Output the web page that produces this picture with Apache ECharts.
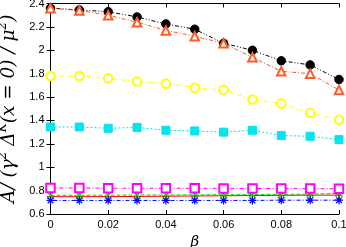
<!DOCTYPE html>
<html><head><meta charset="utf-8">
<script src="https://cdn.jsdelivr.net/npm/echarts@6/dist/echarts.min.js"></script>
<style>html,body{margin:0;padding:0;background:#fff}#c{width:346px;height:247px}</style>
</head><body><div id="c"></div>
<script>
const beta = [0, 0.01, 0.02, 0.03, 0.04, 0.05, 0.06, 0.07, 0.08, 0.09, 0.1];
const redPlus    = [0.748, 0.748, 0.749, 0.750, 0.752, 0.754, 0.756, 0.758, 0.760, 0.761, 0.762];
const greenX     = [0.760, 0.760, 0.761, 0.762, 0.763, 0.764, 0.765, 0.766, 0.768, 0.770, 0.776];
const blueStar   = [0.716, 0.716, 0.716, 0.716, 0.716, 0.716, 0.716, 0.716, 0.718, 0.718, 0.718];
const magentaSq  = [0.822, 0.822, 0.821, 0.820, 0.820, 0.820, 0.819, 0.818, 0.818, 0.817, 0.815];
const cyanSq     = [1.344, 1.344, 1.333, 1.340, 1.316, 1.310, 1.300, 1.316, 1.270, 1.265, 1.236];
const yellowCirc = [1.780, 1.780, 1.760, 1.733, 1.715, 1.680, 1.660, 1.580, 1.545, 1.465, 1.405];
const blackCirc  = [2.360, 2.345, 2.330, 2.285, 2.225, 2.180, 2.060, 2.000, 1.910, 1.875, 1.750];
const orangeTri  = [2.360, 2.340, 2.300, 2.240, 2.170, 2.120, 2.060, 1.940, 1.820, 1.800, 1.660];
const xTicks = [0, 0.02, 0.04, 0.06, 0.08, 0.1];
const yTicks = [0.6, 0.8, 1, 1.2, 1.4, 1.6, 1.8, 2, 2.2, 2.4];

const pair = a => beta.map((b, i) => [b, a[i]]);
const PLUS = 'path://M5,0L5,10M0,5L10,5';
const CROSS = 'path://M0,0L10,10M10,0L0,10';
const STAR = 'path://M5,0L5,10M0,5L10,5M1.5,1.5L8.5,8.5M8.5,1.5L1.5,8.5';

function mk(data, color, dash, symbol, size, kind) {
  let itemStyle;
  if (kind === 'stroke') itemStyle = {color: 'rgba(0,0,0,0)', borderColor: color, borderWidth: 1.2};
  else if (kind === 'filled') itemStyle = {color: color, borderColor: color, borderWidth: 1};
  else itemStyle = {color: color, borderColor: color, borderWidth: 1.1};
  return {
    type: 'line', data: pair(data), symbol: symbol, symbolSize: size,
    showAllSymbol: true, animation: false, z: 3,
    lineStyle: {color: color, width: 1, type: dash},
    itemStyle: itemStyle
  };
}

const axBase = {
  axisLine: {lineStyle: {color: '#000', width: 1}},
  axisTick: {inside: true, length: 4, lineStyle: {color: '#000'}},
  splitLine: {show: false}
};

const chart = echarts.init(document.getElementById('c'), null, {renderer: 'canvas'});
chart.setOption({
  backgroundColor: '#fff',
  animation: false,
  grid: {left: 50.5, right: 7, top: 3.5, bottom: 33, outerBoundsMode: 'none', containLabel: false},
  xAxis: [Object.assign({
    type: 'value', min: 0, max: 0.1, interval: 0.02, position: 'bottom',
    name: 'β', nameLocation: 'middle', nameGap: 17,
    nameTextStyle: {fontFamily: 'DejaVu Serif', fontStyle: 'italic', fontSize: 15, color: '#000'},
    axisLabel: {color: '#000', fontFamily: 'Liberation Sans', fontSize: 11, margin: 5,
      formatter: v => xTicks.includes(+v.toFixed(2)) ? String(+v.toFixed(2)) : ''}
  }, axBase), Object.assign({
    type: 'value', min: 0, max: 0.1, interval: 0.02, position: 'top',
    axisLabel: {show: false}
  }, axBase)],
  yAxis: [Object.assign({
    type: 'value', min: 0.6, max: 2.4, interval: 0.2, position: 'left',
    name: '{t|A/ (γ}{s|2}{t| Δ}{s|K}{t|(x = 0) / μ}{s|2}{t|)}',
    nameLocation: 'middle', nameGap: 27, nameRotate: 90,
    nameTextStyle: {
      color: '#000',
      rich: {
        t: {fontFamily: 'DejaVu Serif', fontStyle: 'italic', fontSize: 18.5, color: '#000', verticalAlign: 'bottom', lineHeight: 21},
        s: {fontFamily: 'DejaVu Serif', fontStyle: 'italic', fontSize: 12, color: '#000', verticalAlign: 'top', lineHeight: 21, padding: [0, 0, 4, 0]}
      }
    },
    axisLabel: {color: '#000', fontFamily: 'Liberation Sans', fontSize: 11, margin: 6,
      formatter: v => String(+(+v).toFixed(1))}
  }, axBase), Object.assign({
    type: 'value', min: 0.6, max: 2.4, interval: 0.2, position: 'right',
    axisLabel: {show: false}
  }, axBase)],
  series: [
    mk(redPlus, '#ff0000', 'solid', PLUS, 7, 'stroke'),
    mk(greenX, '#00dd00', [4, 2], CROSS, 7, 'stroke'),
    mk(blueStar, '#0000ff', [1, 2, 4, 2], STAR, 8, 'stroke'),
    mk(magentaSq, '#ff00ff', [4, 2, 1, 2], 'emptyRect', 8.5, 'empty'),
    mk(cyanSq, '#00e5ee', [2, 2], 'rect', 8, 'filled'),
    mk(yellowCirc, '#ffff00', [4, 2, 1, 2], 'emptyCircle', 8.5, 'empty'),
    mk(blackCirc, '#000000', [1, 2, 1, 2, 4, 2], 'circle', 8.5, 'filled'),
    mk(orangeTri, '#ff5a28', [4, 2, 1, 2], 'emptyTriangle', 8.5, 'empty')
  ]
});
</script></body></html>
